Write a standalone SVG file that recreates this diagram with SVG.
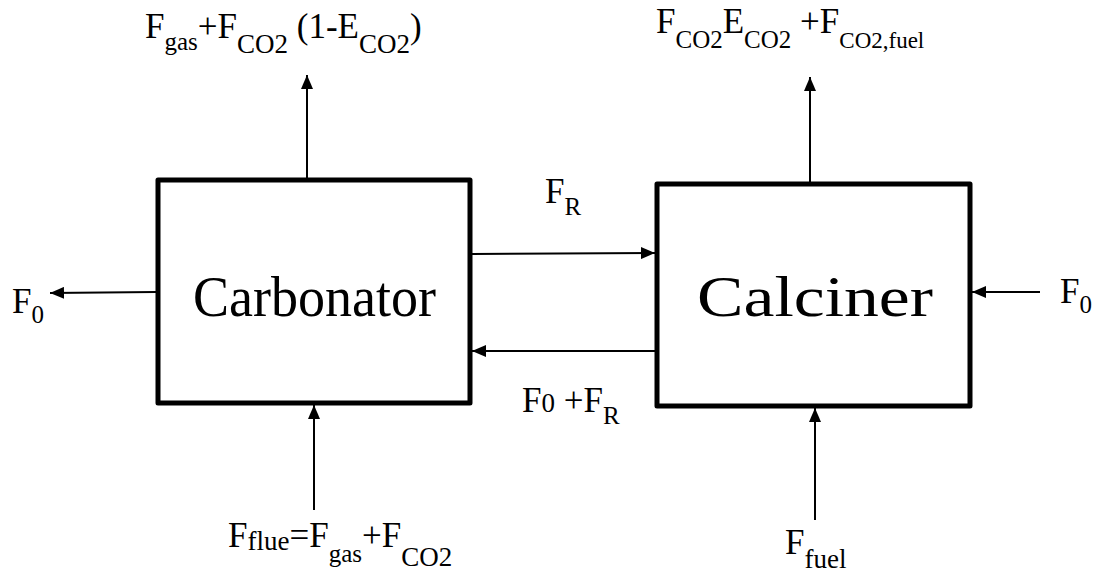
<svg xmlns="http://www.w3.org/2000/svg" width="1094" height="575" viewBox="0 0 1094 575">
<defs>
<marker id="ah" markerUnits="userSpaceOnUse" markerWidth="16" markerHeight="12" refX="14" refY="6" orient="auto">
<path d="M0,0 L14,6 L0,12 Z" fill="#000"/>
</marker>
<style>
.box{fill:#fff;stroke:#000;stroke-width:5;stroke-linejoin:round}
.ln{stroke:#000;stroke-width:2;fill:none;marker-end:url(#ah)}
text{font-family:"Liberation Serif","Times New Roman",serif;fill:#000}
.big{font-size:56px}
.m{font-size:35px}
.s{font-size:25px}
.c{font-size:27px}
.c2{font-size:25px}
</style>
</defs>
<g id="carbonator">
<rect class="box" x="158" y="180" width="312" height="223"/>
<text class="big" x="193" y="316" textLength="243" lengthAdjust="spacingAndGlyphs">Carbonator</text>
</g>
<g id="calciner">
<rect class="box" x="657" y="184" width="313" height="222"/>
<text class="big" x="697" y="316" style="font-size:58px" textLength="236" lengthAdjust="spacingAndGlyphs">Calciner</text>
</g>
<g id="connectors">
<line class="ln" x1="307" y1="180" x2="307" y2="75"/>
<line class="ln" x1="810" y1="184" x2="810" y2="77"/>
<line class="ln" x1="472" y1="254" x2="655" y2="253"/>
<line class="ln" x1="655" y1="351" x2="472" y2="351"/>
<line class="ln" x1="156" y1="292" x2="50" y2="293"/>
<line class="ln" x1="1040" y1="292" x2="972" y2="292"/>
<line class="ln" x1="314" y1="510" x2="314" y2="405"/>
<line class="ln" x1="815" y1="520" x2="815" y2="408"/>
</g>
<g id="labels">
<text x="145" y="38"><tspan class="m">F</tspan><tspan class="s" dy="12">gas</tspan><tspan class="m" dy="-12">+F</tspan><tspan class="c" dy="15">CO2</tspan><tspan class="m" dy="-15"> (1-E</tspan><tspan class="c" dy="15">CO2</tspan><tspan class="m" dy="-15">)</tspan></text>
<text x="656" y="33"><tspan class="m">F</tspan><tspan class="c2" dy="15">CO2</tspan><tspan class="m" dy="-15">E</tspan><tspan class="c2" dy="15">CO2</tspan><tspan class="m" dy="-15"> +F</tspan><tspan class="c2" dy="15" style="font-size:23px">CO2,fuel</tspan></text>
<text x="228" y="547"><tspan class="m">F</tspan><tspan class="c" dy="3">flue</tspan><tspan class="m" dy="-3">=F</tspan><tspan class="s" dy="15">gas</tspan><tspan class="m" dy="-15">+F</tspan><tspan class="c" dy="19">CO2</tspan></text>
<text x="785" y="554"><tspan class="m">F</tspan><tspan class="c" dy="14">fuel</tspan></text>
<text x="545" y="203"><tspan class="m">F</tspan><tspan class="s" dy="12">R</tspan></text>
<text x="522" y="412"><tspan class="m">F</tspan><tspan class="c">0</tspan><tspan class="m"> +F</tspan><tspan class="s" dy="12">R</tspan></text>
<text x="12" y="313"><tspan class="m">F</tspan><tspan class="s" dy="10">0</tspan></text>
<text x="1060" y="303"><tspan class="m">F</tspan><tspan class="s" dy="10">0</tspan></text>
</g>
</svg>
